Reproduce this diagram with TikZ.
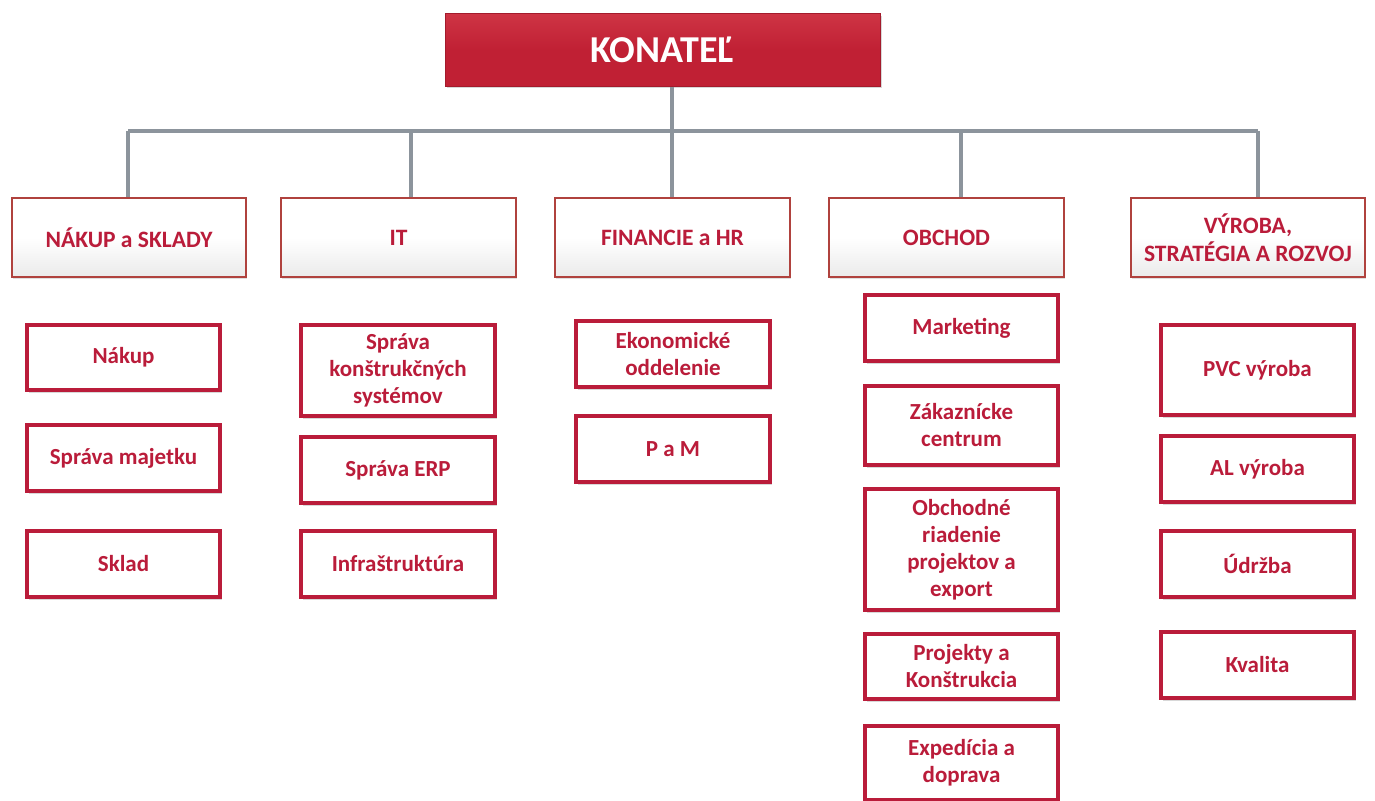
\documentclass[tikz,border=0pt]{standalone}
\usepackage{fontspec}
\setmainfont{Carlito}
\usetikzlibrary{shadows}
\definecolor{crim}{RGB}{186,28,58}
\definecolor{topred}{RGB}{192,32,52}
\definecolor{topredlight}{RGB}{206,52,68}
\definecolor{hdrborder}{RGB}{176,66,62}
\definecolor{conncol}{RGB}{140,148,156}
\tikzset{
  topbox/.style={draw=topred!85!black, line width=1pt, top color=topredlight, bottom color=topred, middle color=topred,
    text=white, font=\fontsize{38}{42}\selectfont\bfseries, inner sep=0pt,
    drop shadow={shadow xshift=1.5pt, shadow yshift=-2pt, opacity=.3, fill=gray}},
  hdr/.style={draw=hdrborder, line width=2.8pt, top color=white, bottom color=gray!16, middle color=white,
    text=crim, font=\fontsize{23.5}{28}\selectfont\bfseries, align=center, inner sep=0pt,
    minimum height=79pt, drop shadow={shadow xshift=1pt, shadow yshift=-2pt, opacity=.25, fill=gray}},
  child/.style={draw=crim, line width=4pt, fill=white, text=crim,
    font=\fontsize{23}{27}\selectfont\bfseries, align=center, inner sep=0pt,
    minimum width=193pt, drop shadow={shadow xshift=1.5pt, shadow yshift=-2.5pt, opacity=.3, fill=gray}},
  conn/.style={draw=conncol, line width=4pt}
}
\begin{document}
\begin{tikzpicture}[x=1pt,y=-1pt]
\useasboundingbox[fill=white] (0,0) rectangle (1375,800);

% top
\node[topbox, minimum width=435pt, minimum height=72pt] (top) at (662.5,50) {KONATEĽ};

% headers
\node[hdr, minimum width=234pt] (h1) at (129,237.5) {\raisebox{-2pt}{NÁKUP a SKLADY}};
\node[hdr, minimum width=235pt] (h2) at (398.5,237.5) {\raisebox{-2pt}{IT}};
\node[hdr, minimum width=235pt] (h3) at (672.5,237.5) {\raisebox{-2pt}{FINANCIE a HR}};
\node[hdr, minimum width=235pt] (h4) at (946.5,237.5) {\raisebox{-2pt}{OBCHOD}};
\node[hdr, minimum width=234pt] (h5) at (1248,237.5) {VÝROBA,\\STRATÉGIA A ROZVOJ};

% connectors
\coordinate (bus) at (672,131);
\coordinate (j1) at (128,131);
\coordinate (j2) at (411,131);
\coordinate (j3) at (672,131);
\coordinate (j4) at (961,131);
\coordinate (j5) at (1258,131);
\draw[conn] (top.south -| bus) -- (bus);
\draw[conn] (j1) -- (j5);
\draw[conn] (j1) -- (j1 |- h1.north);
\draw[conn] (j2) -- (j2 |- h2.north);
\draw[conn] (j3) -- (j3 |- h3.north);
\draw[conn] (j4) -- (j4 |- h4.north);
\draw[conn] (j5) -- (j5 |- h5.north);

% column 1
\node[child, minimum height=65pt] (c11) at (123.5,357.5) {Nákup};
\node[child, minimum height=66pt] (c12) at (123.5,458) {Správa majetku};
\node[child, minimum height=66pt] (c13) at (123.5,564) {Sklad};

% column 2
\node[child, minimum width=194pt, minimum height=91pt] (c21) at (398,370.5) {Správa\\konštrukčných\\systémov};
\node[child, minimum width=194pt, minimum height=66pt] (c22) at (398,470) {Správa ERP};
\node[child, minimum width=194pt, minimum height=66pt] (c23) at (398,564) {Infraštruktúra};

% column 3
\node[child, minimum width=194pt, minimum height=66pt] (c31) at (673,354) {Ekonomické\\oddelenie};
\node[child, minimum width=194pt, minimum height=66pt] (c32) at (673,449) {P a M};

% column 4
\node[child, minimum height=66pt] (c41) at (961.5,328) {Marketing};
\node[child, minimum height=79pt] (c42) at (961.5,425.5) {Zákaznícke\\centrum};
\node[child, minimum height=121pt] (c43) at (961.5,549.5) {Obchodné\\riadenie\\projektov a\\export};
\node[child, minimum height=65pt] (c44) at (961.5,666.5) {Projekty a\\Konštrukcia};
\node[child, minimum height=74pt] (c45) at (961.5,763) {Expedícia a\\doprava};

% column 5
\node[child, minimum height=90pt] (c51) at (1257.5,370) {PVC výroba};
\node[child, minimum height=66pt] (c52) at (1257.5,469) {AL výroba};
\node[child, minimum height=66pt] (c53) at (1257.5,564) {Údržba};
\node[child, minimum height=66pt] (c54) at (1257.5,665) {Kvalita};
\end{tikzpicture}
\end{document}
